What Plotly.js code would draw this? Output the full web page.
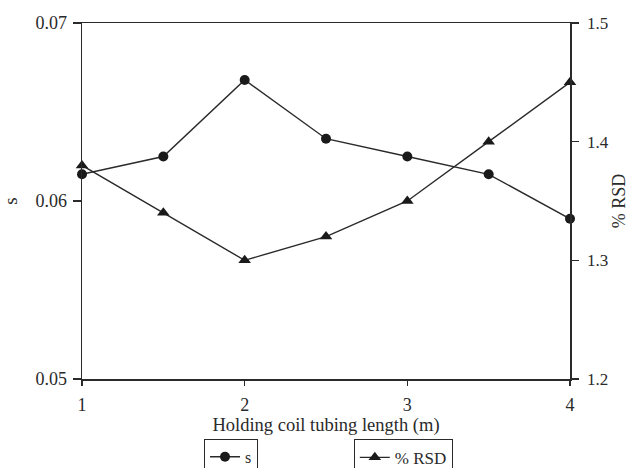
<!DOCTYPE html>
<html>
<head>
<meta charset="utf-8">
<script src="https://cdn.plot.ly/plotly-3.0.1.min.js"></script>
<style>html,body{margin:0;padding:0;background:#fff;}#chart{width:629px;height:468px;}</style>
</head>
<body>
<div id="chart"></div>
<script>
var lengths = [1, 1.5, 2, 2.5, 3, 3.5, 4];
var sValues = [0.0615, 0.0625, 0.0668, 0.0635, 0.0625, 0.0615, 0.0590];
var rsdValues = [1.38, 1.34, 1.30, 1.32, 1.35, 1.40, 1.45];
var xTicks = [1, 2, 3, 4];
var yTicks = [0.05, 0.06, 0.07];
var y2Ticks = [1.2, 1.3, 1.4, 1.5];

var serif = "Liberation Serif, Times New Roman, serif";
var ink = "#2a2a2a";

var traces = [
  {
    x: lengths, y: sValues, name: "s", type: "scatter", mode: "lines+markers",
    line: {color: ink, width: 1.4},
    marker: {symbol: "circle", size: 10, color: "#1a1a1a"},
    cliponaxis: false, legend: "legend"
  },
  {
    x: lengths, y: rsdValues, name: "% RSD", type: "scatter", mode: "lines+markers",
    yaxis: "y2",
    line: {color: ink, width: 1.4},
    marker: {symbol: "triangle-up", size: 11, color: "#1a1a1a"},
    cliponaxis: false, legend: "legend2"
  }
];

var layout = {
  width: 629, height: 468,
  margin: {l: 82, r: 59, t: 22.5, b: 89, pad: 0, autoexpand: false},
  paper_bgcolor: "#fff", plot_bgcolor: "#fff",
  font: {family: serif, size: 17, color: ink},
  showlegend: true,
  xaxis: {
    range: [1, 4], tickvals: xTicks, ticktext: xTicks.map(String),
    showgrid: false, zeroline: false,
    showline: true, linecolor: ink, linewidth: 1.5, mirror: true,
    ticks: "outside", ticklen: 5, tickwidth: 1.5, tickcolor: ink,
    ticklabelstandoff: 4,
    tickfont: {family: serif, size: 18, color: ink},
    title: {text: "Holding coil tubing length (m)", font: {family: serif, size: 18.5, color: ink}, standoff: 2}
  },
  yaxis: {
    range: [0.05, 0.07], tickvals: yTicks, ticktext: yTicks.map(function(v){return v.toFixed(2);}),
    showgrid: false, zeroline: false,
    showline: true, linecolor: ink, linewidth: 1.5,
    ticks: "outside", ticklen: 8, tickwidth: 1.5, tickcolor: ink,
    ticklabelstandoff: 2,
    tickfont: {family: serif, size: 18, color: ink},
    title: {text: "s", font: {family: serif, size: 19, color: ink}, standoff: 16}
  },
  yaxis2: {
    range: [1.2, 1.5], tickvals: y2Ticks, ticktext: y2Ticks.map(function(v){return v.toFixed(1);}),
    overlaying: "y", side: "right", anchor: "x",
    showgrid: false, zeroline: false,
    showline: true, linecolor: ink, linewidth: 1.5,
    ticks: "outside", ticklen: 7, tickwidth: 1.5, tickcolor: ink,
    ticklabelstandoff: 5,
    tickfont: {family: serif, size: 17, color: ink},
    title: {text: "% RSD", font: {family: serif, size: 18, color: ink}, standoff: 6}
  },
  legend: {
    x: 0.25, y: -0.168, xanchor: "left", yanchor: "top",
    bordercolor: ink, borderwidth: 1, bgcolor: "#fff",
    itemwidth: 30, font: {family: serif, size: 16, color: ink},
    tracegroupgap: 0
  },
  legend2: {
    x: 0.557, y: -0.168, xanchor: "left", yanchor: "top",
    bordercolor: ink, borderwidth: 1, bgcolor: "#fff",
    itemwidth: 30, font: {family: serif, size: 17, color: ink},
    tracegroupgap: 0
  }
};

Plotly.newPlot("chart", traces, layout, {displayModeBar: false, staticPlot: true});
</script>
</body>
</html>
